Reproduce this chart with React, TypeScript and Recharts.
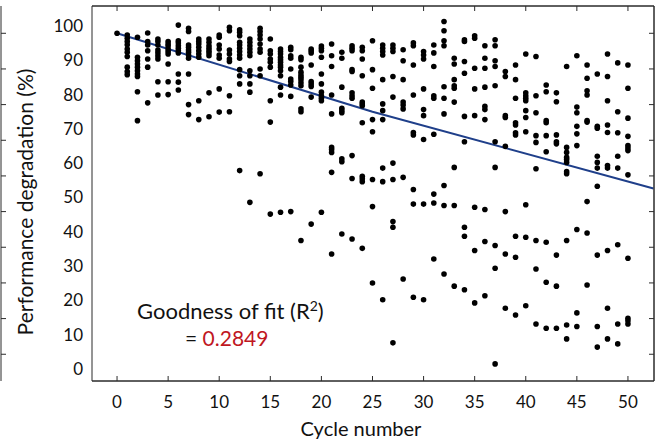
import { ComposedChart, Line, ReferenceArea, Scatter, XAxis, YAxis } from 'recharts';

// cycle index of each column of dots
const cycleNumbers = [
  0, 1, 2, 3, 4, 5, 6, 7, 8, 9, 10, 11, 12, 13, 14, 15, 16, 17, 18, 19, 20, 21, 22, 23, 24, 25,
  26, 27, 28, 29, 30, 31, 32, 33, 34, 35, 36, 37, 38, 39, 40, 41, 42, 43, 44, 45, 46, 47, 48, 49, 50,
];

// measured degradation (%) for each cycle, same order as cycleNumbers
const degradationByCycle = [
  [100],
  [99.5, 98.6, 97.7, 96.8, 95.6, 94.7, 93.5, 90.5, 89.3, 88.4],
  [98.9, 93.3, 92.3, 91.4, 90.5, 89.5, 88.6, 87.9, 83.6, 75.5],
  [100.1, 97.7, 96.7, 95.1, 92.8, 90.5, 80.5],
  [98.4, 97.7, 96.7, 95.3, 94.5, 93.6, 92.8, 86.4, 82.7],
  [97.7, 97.0, 96.4, 95.6, 94.9, 94.2, 91.4, 86.4, 82.8],
  [102.3, 97.9, 97.3, 96.5, 95.8, 95.1, 94.5, 88.6, 86.3, 84.1],
  [101.4, 100.5, 96.7, 96.1, 95.3, 94.7, 93.9, 93.0, 88.6, 80.0, 77.2],
  [98.4, 97.7, 97.0, 96.1, 95.1, 94.2, 93.3, 81.1, 75.8],
  [98.4, 97.5, 96.5, 95.8, 95.1, 94.5, 93.7, 83.3, 76.6],
  [99.5, 98.9, 96.7, 95.6, 93.9, 93.0, 84.4, 77.9],
  [101.7, 100.7, 95.3, 94.2, 92.8, 92.1, 82.5, 78.0],
  [101.0, 100.3, 99.3, 97.5, 96.7, 95.8, 94.9, 93.9, 93.0, 89.8, 88.1, 85.8, 61.5],
  [98.4, 97.5, 96.5, 95.6, 94.7, 93.7, 89.5, 88.1, 85.8, 83.5, 52.6],
  [101.4, 100.5, 99.5, 98.4, 97.0, 95.6, 94.7, 90.0, 88.1, 60.6],
  [98.4, 95.1, 94.2, 92.8, 91.9, 90.5, 81.1, 75.1, 49.3],
  [95.6, 94.9, 94.2, 93.3, 92.6, 91.9, 91.1, 90.5, 89.5, 88.1, 84.9, 82.7, 49.8],
  [96.1, 95.4, 93.7, 93.0, 90.0, 87.2, 86.5, 85.5, 82.3, 50.0],
  [93.3, 92.6, 90.5, 89.1, 88.3, 87.7, 87.0, 86.1, 85.3, 78.8, 78.0, 41.9],
  [95.6, 95.1, 94.5, 91.1, 86.5, 85.8, 85.1, 82.1, 46.5],
  [96.4, 95.8, 95.1, 93.3, 88.6, 85.8, 83.5, 82.5, 81.8, 81.1, 49.8],
  [97.0, 93.7, 90.7, 82.7, 77.4, 68.0, 67.4, 66.6, 61.0, 38.1],
  [94.7, 93.0, 84.9, 79.0, 78.3, 77.7, 64.8, 64.0, 43.7],
  [96.5, 95.8, 95.1, 89.8, 89.3, 83.3, 82.5, 81.8, 65.7, 59.3, 42.3],
  [96.1, 95.1, 92.8, 88.1, 80.7, 80.2, 79.7, 74.9, 59.9, 59.2, 58.4, 39.7],
  [97.9, 89.8, 84.6, 75.8, 72.4, 59.0, 51.4, 30.0],
  [96.7, 95.8, 94.9, 93.9, 87.0, 80.2, 78.3, 75.8, 62.2, 58.4, 25.3],
  [96.7, 95.8, 94.9, 87.9, 82.1, 63.6, 59.0, 47.2, 45.6, 13.2],
  [95.4, 92.3, 87.0, 80.7, 79.9, 78.8, 59.6, 31.1],
  [97.3, 96.5, 91.1, 82.7, 72.2, 71.5, 56.2, 52.1, 26.0],
  [94.9, 93.9, 92.8, 84.4, 78.6, 76.9, 70.2, 52.1, 25.3],
  [96.7, 94.5, 90.7, 82.5, 81.8, 71.7, 54.9, 52.4, 36.7],
  [103.3, 100.7, 97.9, 96.5, 85.0, 81.8, 77.4, 57.3, 51.7, 32.5],
  [93.0, 91.4, 87.0, 85.3, 84.6, 80.7, 62.4, 51.7, 29.1],
  [98.2, 97.7, 92.1, 88.8, 76.7, 69.6, 45.6, 43.1, 28.1],
  [99.3, 98.6, 90.2, 84.4, 76.9, 51.2, 39.1, 24.4],
  [96.5, 93.0, 90.2, 84.9, 79.5, 78.6, 75.8, 50.6, 41.6, 26.4],
  [98.2, 96.5, 92.3, 90.7, 85.3, 69.6, 62.4, 40.5, 34.1, 7.3],
  [89.3, 87.9, 76.9, 76.4, 68.3, 50.0, 38.1, 22.9],
  [91.1, 87.0, 81.8, 74.9, 74.3, 72.1, 71.5, 43.1, 37.2, 21.0],
  [94.2, 83.3, 82.5, 81.8, 81.1, 78.3, 76.4, 72.4, 51.9, 42.8, 23.6],
  [93.5, 82.5, 77.7, 71.3, 69.4, 62.0, 41.9, 33.9, 18.5],
  [85.5, 83.6, 75.5, 74.9, 71.3, 66.8, 41.4, 30.2, 17.3],
  [83.3, 80.8, 71.5, 69.6, 69.0, 37.8, 29.1, 17.3],
  [90.7, 68.0, 66.6, 65.2, 64.6, 63.8, 61.2, 60.6, 41.9, 18.2, 14.3],
  [93.7, 79.3, 77.7, 73.9, 71.8, 68.5, 45.0, 21.6, 17.8],
  [91.1, 87.4, 83.9, 82.7, 75.5, 75.1, 52.8, 44.0, 29.4],
  [88.6, 73.9, 73.4, 65.5, 63.8, 62.2, 57.1, 37.8, 17.8, 12.0],
  [94.2, 87.9, 81.1, 74.3, 72.2, 62.9, 62.2, 39.1, 22.9, 14.3],
  [91.7, 78.0, 72.1, 65.5, 62.2, 40.7, 18.5, 12.9],
  [91.1, 84.6, 76.2, 71.1, 68.5, 67.8, 67.1, 60.3, 36.9, 20.1, 19.4, 18.5],
];

// fitted trend line
const fitCycles = [0, 25, 52.5];
const fitValues = [100, 78, 56.5];

const xTicks = [0, 5, 10, 15, 20, 25, 30, 35, 40, 45, 50];
const yTicks = [10, 20, 30, 40, 50, 60, 70, 80, 90, 100];
const yTickLabels = [0, 10, 20, 30, 40, 50, 60, 70, 80, 90, 100];

const points = cycleNumbers.flatMap((cycle, i) =>
  degradationByCycle[i].map((value) => ({ cycle, value })),
);
const fitLine = fitCycles.map((cycle, i) => ({ cycle, value: fitValues[i] }));

const FONT = 'Lato, "Open Sans", sans-serif';
const AXIS = '#2b2b2b';
const xDomain = [-2.45, 52.55];
const yDomain = [2.5, 107.65];

const Dot = (props: any) => <circle cx={props.cx} cy={props.cy} r={2.8} fill="#000" />;
// frame axes only show their inward tick marks, no labels
const NoLabel = () => <g />;

export default function App() {
  return (
    <div style={{ position: 'absolute', left: 0, top: 0, width: 662, height: 440, background: '#fff', fontFamily: FONT }}>
      <ComposedChart width={662} height={440} margin={{ top: 0, right: 7, bottom: 29, left: 0 }}>
        <XAxis
          dataKey="cycle"
          type="number"
          domain={xDomain}
          allowDataOverflow
          ticks={xTicks}
          interval={0}
          height={30}
          tickSize={-5}
          tickMargin={20}
          stroke={AXIS}
          tick={{ fill: '#111', fontSize: 17, fontFamily: FONT }}
        />
        <XAxis
          xAxisId="top"
          dataKey="cycle"
          orientation="top"
          type="number"
          domain={xDomain}
          allowDataOverflow
          ticks={xTicks}
          interval={0}
          height={6}
          tickSize={-5}
          stroke={AXIS}
          tick={NoLabel}
        />
        <YAxis
          yAxisId="v"
          dataKey="value"
          type="number"
          domain={yDomain}
          allowDataOverflow
          ticks={yTicks}
          interval={0}
          width={1}
          tickSize={-5}
          stroke={AXIS}
          tick={NoLabel}
        />
        <YAxis
          yAxisId="lbl"
          type="number"
          domain={[-3.5, 105.8]}
          allowDataOverflow
          ticks={yTickLabels}
          interval={0}
          width={91}
          axisLine={false}
          tickLine={false}
          tickSize={0}
          tickMargin={9}
          tick={{ fill: '#111', fontSize: 17, fontFamily: FONT }}
        />
        <YAxis
          yAxisId="r"
          orientation="right"
          type="number"
          domain={yDomain}
          allowDataOverflow
          ticks={yTicks}
          interval={0}
          width={1}
          tickSize={-5}
          stroke={AXIS}
          tick={NoLabel}
        />
        {/* plot frame */}
        <ReferenceArea
          yAxisId="v"
          x1={xDomain[0]}
          x2={xDomain[1]}
          y1={yDomain[0]}
          y2={yDomain[1]}
          fill="none"
          stroke={AXIS}
          strokeWidth={1}
          ifOverflow="visible"
        />
        <Scatter data={points} dataKey="value" yAxisId="v" shape={Dot} isAnimationActive={false} />
        <Line
          data={fitLine}
          dataKey="value"
          yAxisId="v"
          type="linear"
          stroke="#1f3f8a"
          strokeWidth={2}
          dot={false}
          isAnimationActive={false}
        />
      </ComposedChart>
      <div
        style={{
          position: 'absolute', left: -125, top: 189, width: 300, height: 26, lineHeight: '26px',
          textAlign: 'center', fontSize: 21, color: '#111', transform: 'rotate(-90deg)', whiteSpace: 'nowrap',
        }}
      >
        Performance degradation (%)
      </div>
      <div
        style={{
          position: 'absolute', left: 261, top: 415, width: 200, lineHeight: '26px',
          textAlign: 'center', fontSize: 20, color: '#111',
        }}
      >
        Cycle number
      </div>
      <div style={{ position: 'absolute', left: 137, top: 298, lineHeight: '26px', fontSize: 22, color: '#111', whiteSpace: 'nowrap' }}>
        Goodness of fit (R<span style={{ fontSize: 14, position: 'relative', top: -8 }}>2</span>)
      </div>
      <div style={{ position: 'absolute', left: 185, top: 325, lineHeight: '26px', fontSize: 21, color: '#111', whiteSpace: 'nowrap' }}>
        = <span style={{ color: '#c0171f' }}>0.2849</span>
      </div>
    </div>
  );
}
